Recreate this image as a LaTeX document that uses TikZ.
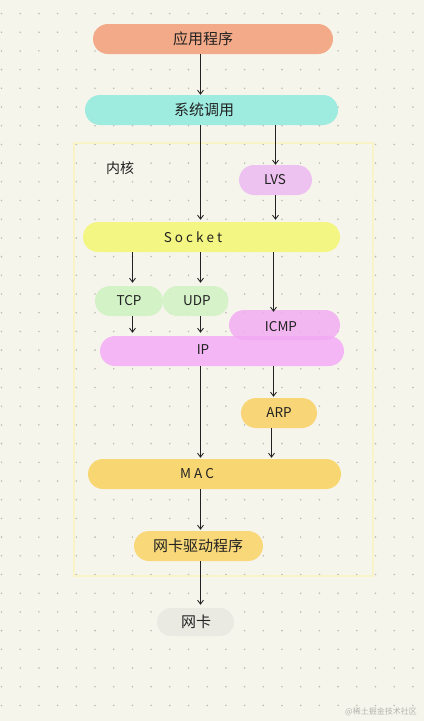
\documentclass[tikz,border=0pt]{standalone}
\usepackage{fontspec}
\newfontfamily\cjk{Noto Sans CJK SC}
\usetikzlibrary{arrows.meta}
\definecolor{bgc}{HTML}{F6F5EC}
\definecolor{dotc}{HTML}{BDBDB4}
\definecolor{inkc}{HTML}{222222}
\definecolor{appc}{HTML}{F3AA88}
\definecolor{sysc}{HTML}{9EECE0}
\definecolor{lvsc}{HTML}{EEC2F0}
\definecolor{sockc}{HTML}{F4F683}
\definecolor{tcpc}{HTML}{D3F2C6}
\definecolor{icmpc}{HTML}{F2A8F2}
\definecolor{ipc}{HTML}{F4B6F4}
\definecolor{arpc}{HTML}{F8D577}
\definecolor{macc}{HTML}{F8D773}
\definecolor{drvc}{HTML}{F8D878}
\definecolor{nicc}{HTML}{EAEAE3}
\definecolor{kerc}{HTML}{F8F4C8}
\definecolor{wmc}{HTML}{B4B4AE}
\tikzset{
  pill/.style={rectangle, rounded corners=15pt, minimum height=30pt, inner sep=0pt, draw=none, fill=#1},
  lbl/.style={text=inkc, font=\cjk\fontsize{15}{15}\selectfont, inner sep=0pt},
  lat/.style={text=inkc, font=\cjk\fontsize{13.5}{13.5}\selectfont, inner sep=0pt},
  arr/.style={draw=inkc, line width=0.85pt, -{Straight Barb[length=4pt,width=6pt]}}
}
\begin{document}
\begin{tikzpicture}[x=1pt,y=-1pt]
\useasboundingbox (0,0) rectangle (424,721);
\fill[bgc] (0,0) rectangle (424,721);
\foreach \i in {0,...,22}{
  \foreach \j in {0,...,37}{
    \fill[dotc] (1.5+18.7*\i, 13.5+18.7*\j) circle (0.9);
  }
}
% kernel frame
\draw[kerc, line width=1.2pt] (74,143) rectangle (373,576);
\node[lbl, font=\cjk\fontsize{14}{14}\selectfont] (tKernel) at (120,168) {内核};
% columns
\coordinate (cA) at (200.5,0);
\coordinate (cB) at (275.5,0);
\coordinate (cC) at (132.5,0);
\coordinate (cD) at (273.5,0);
\coordinate (cE) at (271.5,0);
% pills
\node[pill=appc, minimum width=240pt] (app) at (213,39) {};
\node[pill=sysc, minimum width=253pt] (sys) at (211.5,110) {};
\node[pill=lvsc, minimum width=73pt] (lvs) at (275.5,180) {};
\node[pill=sockc, minimum width=257pt] (sock) at (211.5,237) {};
\node[pill=tcpc, minimum width=68pt] (tcp) at (129,301) {};
\node[pill=tcpc, minimum width=66pt, fill opacity=0.9] (udp) at (195.5,301) {};
\node[pill=ipc, minimum width=244pt] (ip) at (222,351) {};
\node[pill=icmpc, minimum width=111pt, fill opacity=0.8] (icmp) at (284.5,325) {};
\node[pill=arpc, minimum width=76pt] (arp) at (279,413) {};
\node[pill=macc, minimum width=253pt] (mac) at (214.5,474) {};
\node[pill=drvc, minimum width=129pt] (drv) at (198.5,546) {};
\node[pill=nicc, minimum width=77pt, minimum height=28pt, rounded corners=14pt] (nic) at (195.5,622) {};
% texts
\node[lbl] (tApp) at (203,39) {应用程序};
\node[lbl] (tSys) at (204,110) {系统调用};
\node[lat] (tLvs) at (275,180) {LVS};
\node[lat] (tSock) at (193,237) {S o c k e t};
\node[lat] (tTcp) at (129,301) {TCP};
\node[lat] (tUdp) at (197,301) {UDP};
\node[lat] (tIcmp) at (281,327) {ICMP};
\node[lat] (tIp) at (203,350) {IP};
\node[lat] (tArp) at (279,413) {ARP};
\node[lat] (tMac) at (197,474) {M A C};
\node[lbl] (tDrv) at (198,546) {网卡驱动程序};
\node[lbl] (tNic) at (196,622) {网卡};
\node[text=wmc, font=\cjk\fontsize{8}{8}\selectfont, inner sep=0pt] (wm) at (381,712) {@稀土掘金技术社区};
% connectors
\draw[arr] (app.south -| cA) -- (sys.north -| cA);
\draw[arr] (sys.south -| cA) -- ([yshift=2pt]sock.north -| cA);
\draw[arr] (sys.south -| cB) -- (lvs.north -| cB);
\draw[arr] (lvs.south -| cB) -- ([yshift=2pt]sock.north -| cB);
\draw[arr] (sock.south -| cC) -- ([yshift=3pt]tcp.north -| cC);
\draw[arr] (sock.south -| cA) -- ([yshift=3pt]udp.north -| cA);
\draw[arr] (sock.south -| cD) -- ([yshift=-2pt]icmp.north -| cD);
\draw[arr] (tcp.south -| cC) -- ([yshift=3pt]ip.north -| cC);
\draw[arr] (udp.south -| cA) -- ([yshift=3pt]ip.north -| cA);
\draw[arr] (ip.south -| cD) -- ([yshift=1pt]arp.north -| cD);
\draw[arr] (ip.south -| cA) -- ([yshift=1pt]mac.north -| cA);
\draw[arr] (arp.south -| cE) -- ([yshift=1pt]mac.north -| cE);
\draw[arr] (mac.south -| cA) -- ([yshift=1pt]drv.north -| cA);
\draw[arr] (drv.south -| cA) -- ([yshift=3pt]nic.north -| cA);
\end{tikzpicture}
\end{document}
